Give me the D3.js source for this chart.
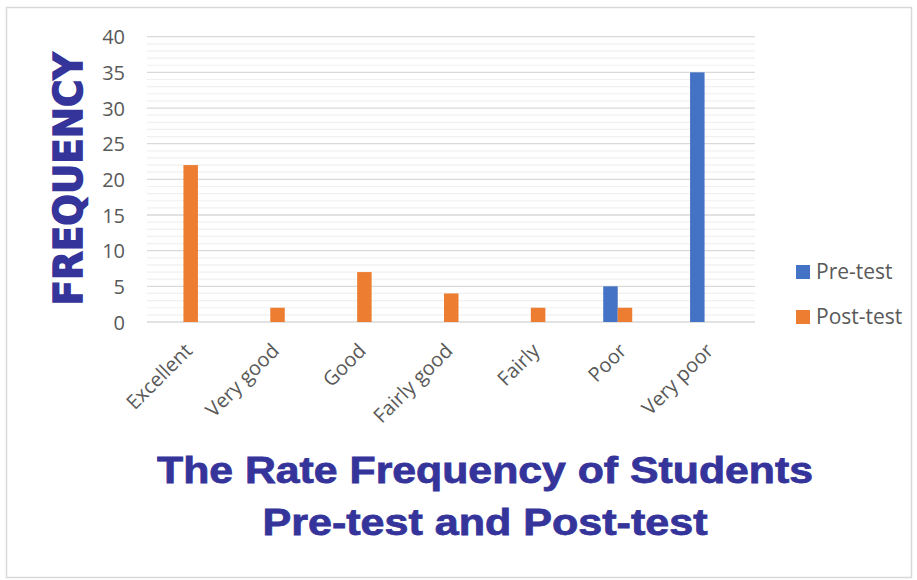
<!DOCTYPE html>
<html>
<head>
<meta charset="utf-8">
<script src="https://cdn.jsdelivr.net/npm/d3@7"></script>
<style>
  html, body { margin: 0; padding: 0; background: #fff; }
  svg { display: block; }
</style>
</head>
<body>
<script>
const categories = ['Excellent', 'Very good', 'Good', 'Fairly good', 'Fairly', 'Poor', 'Very poor']
const seriesNames = ['Pre-test', 'Post-test']
const preTest = [0, 0, 0, 0, 0, 5, 35]
const postTest = [22, 2, 7, 4, 2, 2, 0]
const yTicks = [0, 5, 10, 15, 20, 25, 30, 35, 40]

const WIDTH = 917
const HEIGHT = 580
const COLORS = ['#4472c4', '#ed7d31']
const TEXT = '#595959'
const NAVY = '#35349a'
const FONT = '"Open Sans", sans-serif'

const svg = d3.select('body').append('svg')
  .attr('width', WIDTH)
  .attr('height', HEIGHT)

// cadre du graphique
svg.append('rect')
  .attr('x', 6.5).attr('y', 7.5)
  .attr('width', 905).attr('height', 570)
  .attr('fill', '#fff')
  .attr('stroke', '#d9d9d9')
  .attr('stroke-width', 1.5)

const y = d3.scaleLinear()
  .domain([0, 40])
  .range([322, 36.7])

const x = d3.scaleBand()
  .domain(categories)
  .range([140, 748])

const BAR = 14.5
const x1 = d3.scaleBand()
  .domain(seriesNames)
  .range([x.bandwidth() / 2 - BAR, x.bandwidth() / 2 + BAR])

// lignes de grille secondaires puis principales
svg.append('g')
  .selectAll('line')
  .data(d3.range(0, 41).filter(v => v % 5 !== 0))
  .enter().append('line')
  .attr('x1', 147).attr('x2', 755)
  .attr('y1', d => y(d)).attr('y2', d => y(d))
  .attr('stroke', '#f0f0f0')
  .attr('stroke-width', 1.2)

svg.append('g')
  .selectAll('line')
  .data(yTicks)
  .enter().append('line')
  .attr('x1', 147).attr('x2', 755)
  .attr('y1', d => y(d)).attr('y2', d => y(d))
  .attr('stroke', '#d9d9d9')
  .attr('stroke-width', 1.3)

// axe y
const yAxis = svg.append('g')
  .attr('transform', 'translate(125,0)')
  .call(d3.axisLeft(y).tickValues(yTicks).tickSize(0).tickPadding(0))
yAxis.select('.domain').remove()
yAxis.selectAll('text')
  .attr('fill', TEXT)
  .attr('font-family', FONT)
  .attr('font-size', 20)
  .attr('dy', '0.36em')

// barres
const series = [preTest, postTest]
const groups = svg.append('g')
  .selectAll('g')
  .data(categories)
  .enter().append('g')
  .attr('transform', d => `translate(${x(d)},0)`)

groups.selectAll('rect')
  .data((d, i) => seriesNames.map((s, j) => ({ s, v: series[j][i], j })))
  .enter().append('rect')
  .filter(d => d.v > 0)
  .attr('x', d => x1(d.s))
  .attr('width', x1.bandwidth())
  .attr('y', d => y(d.v))
  .attr('height', d => y(0) - y(d.v))
  .attr('fill', d => COLORS[d.j])

// axe x (étiquettes inclinées)
svg.append('g')
  .selectAll('text')
  .data(categories)
  .enter().append('text')
  .attr('transform', d => `translate(${x(d) + x.bandwidth() / 2 + 10},${352}) rotate(-45)`)
  .attr('text-anchor', 'end')
  .attr('fill', TEXT)
  .attr('font-family', FONT)
  .attr('font-size', 20)
  .text(d => d)

// légende
const legend = svg.append('g')
  .selectAll('g')
  .data(seriesNames)
  .enter().append('g')
  .attr('transform', (d, i) => `translate(796,${265 + i * 45})`)
legend.append('rect')
  .attr('width', 14).attr('height', 14)
  .attr('fill', (d, i) => COLORS[i])
legend.append('text')
  .attr('x', 20).attr('y', 14)
  .attr('fill', TEXT)
  .attr('font-family', FONT)
  .attr('font-size', 21)
  .text(d => d)

// titre de l'axe y
svg.append('text')
  .attr('transform', 'translate(82,179) rotate(-90)')
  .attr('text-anchor', 'middle')
  .attr('fill', NAVY)
  .attr('stroke', NAVY)
  .attr('stroke-width', 1.5)
  .attr('font-family', '"DejaVu Sans", sans-serif')
  .attr('font-weight', 'bold')
  .attr('font-size', 39)
  .attr('textLength', 253)
  .attr('lengthAdjust', 'spacingAndGlyphs')
  .text('FREQUENCY')

// titre
const titleLines = ['The Rate Frequency of Students', 'Pre-test and Post-test']
const titleWidths = [656, 445]
svg.append('g')
  .selectAll('text')
  .data(titleLines)
  .enter().append('text')
  .attr('x', 485)
  .attr('y', (d, i) => 483 + i * 52)
  .attr('text-anchor', 'middle')
  .attr('fill', NAVY)
  .attr('stroke', NAVY)
  .attr('stroke-width', 0.8)
  .attr('font-family', '"Liberation Sans", Arial, sans-serif')
  .attr('font-weight', 'bold')
  .attr('font-size', 37)
  .attr('textLength', (d, i) => titleWidths[i])
  .attr('lengthAdjust', 'spacingAndGlyphs')
  .text(d => d)
</script>
</body>
</html>
